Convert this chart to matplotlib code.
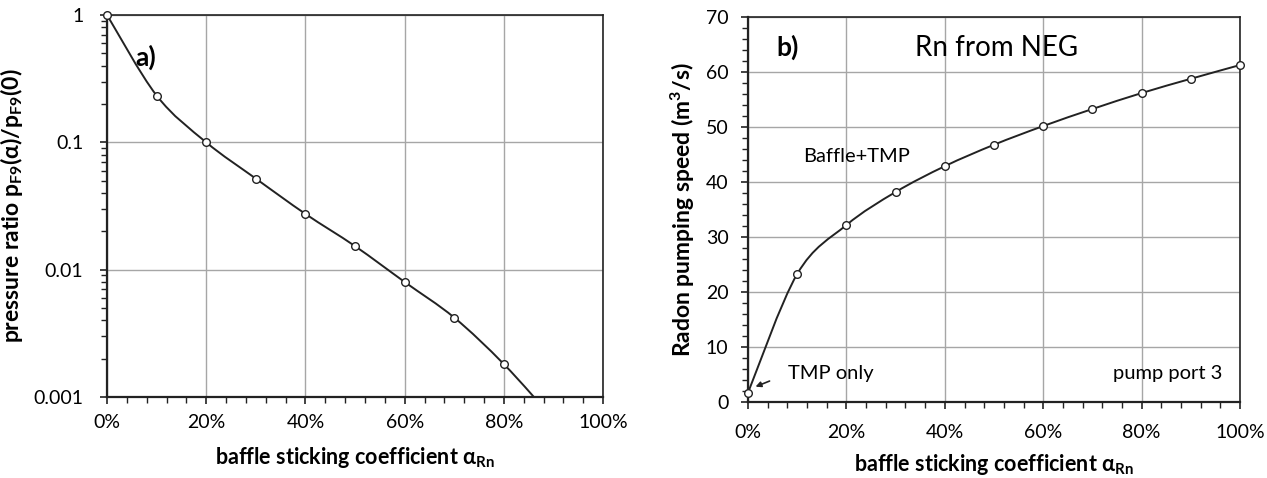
import numpy as np
import matplotlib
matplotlib.use("Agg")
import matplotlib.pyplot as plt
from matplotlib.path import Path
from matplotlib.patches import PathPatch
from matplotlib.ticker import PercentFormatter, MultipleLocator, FixedLocator, FixedFormatter, LogLocator, NullFormatter

plt.rcParams['font.family'] = ['Lato', 'DejaVu Sans']
plt.rcParams['mathtext.fontset'] = 'custom'
plt.rcParams['mathtext.rm'] = 'Lato'
plt.rcParams['mathtext.bf'] = 'Lato:bold'
plt.rcParams['mathtext.it'] = 'Lato:italic'

# a) pressure ratio vs baffle sticking coefficient
alpha_a = [0.0, 0.1, 0.2, 0.3, 0.4, 0.5, 0.6, 0.7, 0.8, 0.9]
ratio_a = [1.0, 0.233, 0.1, 0.0519, 0.0274, 0.0153, 0.0080, 0.0042, 0.00181, 0.00067]

# b) radon pumping speed (m3/s)
alpha_b = [0.0, 0.1, 0.2, 0.3, 0.4, 0.5, 0.6, 0.7, 0.8, 0.9, 1.0]
speed_b = [1.7, 23.3, 32.2, 38.2, 42.9, 46.8, 50.2, 53.3, 56.2, 58.8, 61.3]

ytick_a = [0.001, 0.01, 0.1, 1]
ytick_a_lbl = ["0.001", "0.01", "0.1", "1"]


def smooth_path(x, y):
    # excel-like smoothed line: cubic bezier segments through the points
    x = np.asarray(x, float)
    y = np.asarray(y, float)
    n = len(x)
    verts = [(x[0], y[0])]
    codes = [Path.MOVETO]
    for i in range(n - 1):
        i0 = max(i - 1, 0)
        i3 = min(i + 2, n - 1)
        c1 = (x[i] + (x[i + 1] - x[i0]) / 6, y[i] + (y[i + 1] - y[i0]) / 6)
        c2 = (x[i + 1] - (x[i3] - x[i]) / 6, y[i + 1] - (y[i3] - y[i]) / 6)
        verts += [c1, c2, (x[i + 1], y[i + 1])]
        codes += [Path.CURVE4] * 3
    return verts, codes


fig = plt.figure(figsize=(12.67, 4.78), dpi=100)
ax1 = fig.add_axes([0.0845, 0.1695, 0.3915, 0.799])
ax2 = fig.add_axes([0.5904, 0.159, 0.3883, 0.805])

grid_kw = dict(color="#a6a6a6", linewidth=1.0)
mk = dict(marker='o', markersize=5.5, markerfacecolor='white', markeredgecolor='#222222',
          markeredgewidth=1.0, linestyle='none', zorder=5, clip_on=False)
xl_kw = dict(fontsize=15.5, fontweight='bold')
yl_kw = dict(fontsize=16.5, fontweight='bold')

# ---- a)
ax1.set_yscale('log')
v, c = smooth_path(alpha_a, np.log10(ratio_a))
v = [(px, 10 ** py) for px, py in v]
ax1.add_patch(PathPatch(Path(v, c), fill=False, edgecolor='#222222', linewidth=1.4,
                        transform=ax1.transData, zorder=4))
ax1.set_xlim(0, 1)
ax1.set_ylim(0.001, 1)
shown = np.array(ratio_a) >= 0.001
ax1.plot(np.array(alpha_a)[shown], np.array(ratio_a)[shown], **mk)
ax1.xaxis.set_major_locator(MultipleLocator(0.2))
ax1.xaxis.set_minor_locator(MultipleLocator(0.04))
ax1.xaxis.set_major_formatter(PercentFormatter(xmax=1, decimals=0))
ax1.yaxis.set_major_locator(FixedLocator(ytick_a))
ax1.yaxis.set_major_formatter(FixedFormatter(ytick_a_lbl))
ax1.yaxis.set_minor_locator(LogLocator(base=10, subs=np.arange(2, 10)))
ax1.yaxis.set_minor_formatter(NullFormatter())
ax1.grid(True, which='major', **grid_kw)
ax1.set_xlabel(r"baffle sticking coefficient α$_\mathbf{Rn}$", **xl_kw)
ax1.set_ylabel(r"pressure ratio p$_\mathbf{F9}$(α)/p$_\mathbf{F9}$(0)", **yl_kw)
ax1.xaxis.set_label_coords(0.5, -0.125)
ax1.yaxis.set_label_coords(-0.165, 0.5)
ax1.text(0.058, 0.89, "a)", transform=ax1.transAxes, fontsize=19, fontweight='bold', va='center')
ax1.tick_params(axis='x', which='major', pad=7)
ax1.tick_params(axis='y', which='major', pad=12)

# ---- b)
v, c = smooth_path(alpha_b, speed_b)
ax2.add_patch(PathPatch(Path(v, c), fill=False, edgecolor='#222222', linewidth=1.4,
                        transform=ax2.transData, zorder=4))
ax2.plot(alpha_b, speed_b, **mk)
ax2.set_xlim(0, 1)
ax2.set_ylim(0, 70)
ax2.xaxis.set_major_locator(MultipleLocator(0.2))
ax2.xaxis.set_minor_locator(MultipleLocator(0.04))
ax2.xaxis.set_major_formatter(PercentFormatter(xmax=1, decimals=0))
ax2.yaxis.set_major_locator(MultipleLocator(10))
ax2.yaxis.set_minor_locator(MultipleLocator(2))
ax2.grid(True, which='major', **grid_kw)
ax2.set_xlabel(r"baffle sticking coefficient α$_\mathbf{Rn}$", **xl_kw)
ax2.set_ylabel(r"Radon pumping speed (m$^\mathbf{3}$/s)", **yl_kw)
ax2.xaxis.set_label_coords(0.5, -0.13)
ax2.yaxis.set_label_coords(-0.104, 0.5)
ytr = ax2.get_yaxis_transform()
ax2.text(0.058, 62.9, "b)", transform=ytr, fontsize=19, fontweight='bold', va='baseline')
ax2.text(0.506, 62.9, "Rn from NEG", transform=ytr, fontsize=20, ha='center', va='baseline')
ax2.text(0.112, 43.6, "Baffle+TMP", transform=ytr, fontsize=14.5, ha='left', va='baseline')
ax2.text(0.081, 4.2, "TMP only", transform=ytr, fontsize=14.5, ha='left', va='baseline')
ax2.text(0.965, 4.2, "pump port 3", transform=ytr, fontsize=14.5, ha='right', va='baseline')
ax2.annotate("", xy=(0.01, 2.6), xytext=(0.049, 4.0),
             arrowprops=dict(arrowstyle='-|>', color='#222222', lw=1.2, mutation_scale=8))
ax2.tick_params(axis='x', which='major', pad=11)
ax2.tick_params(axis='y', which='major', pad=9)

for ax in (ax1, ax2):
    for s in ax.spines.values():
        s.set_color('#222222')
        s.set_linewidth(1.2)
    ax.spines['left'].set_linewidth(1.6)
    ax.spines['bottom'].set_linewidth(1.6)
    ax.tick_params(which='major', direction='out', length=5, width=1.2, labelsize=14, color='#222222')
    ax.tick_params(which='minor', direction='out', length=4, width=1.0, color='#222222')
    ax.set_axisbelow(True)

fig.savefig("out.png", dpi=100)
